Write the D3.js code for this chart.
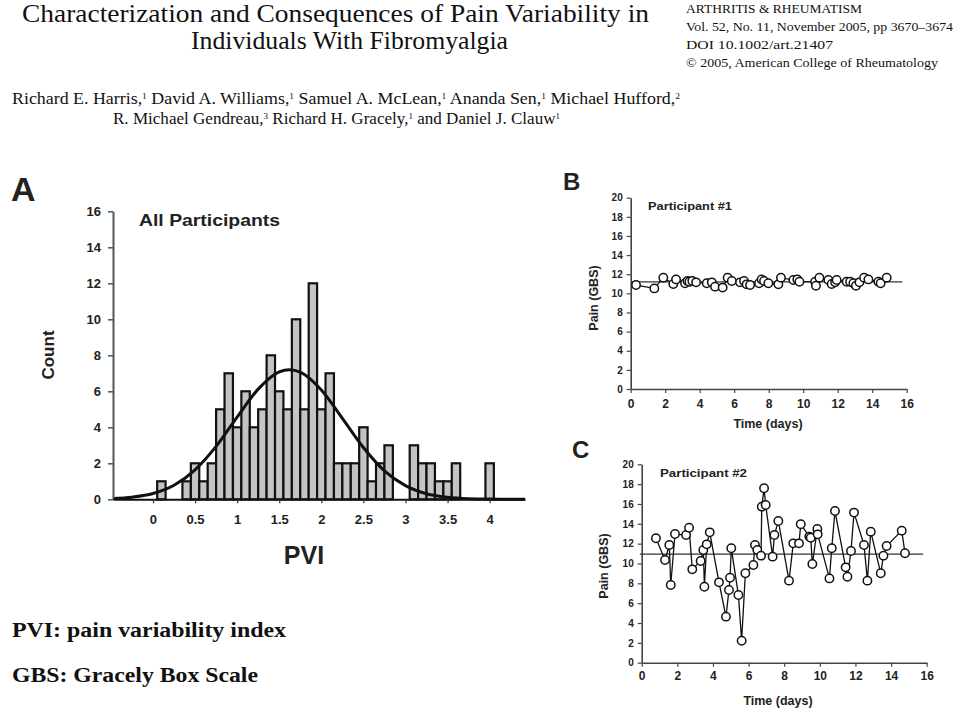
<!DOCTYPE html>
<html><head><meta charset="utf-8">
<script src="https://cdn.jsdelivr.net/npm/d3@7"></script>
<style>
html,body{margin:0;padding:0;background:#fff;}
svg{display:block;}
.sans{font-family:"Liberation Sans",Arial,sans-serif;font-weight:bold;fill:#222;}
.serif{font-family:"Liberation Serif","Times New Roman",serif;fill:#111;}
</style></head>
<body>
<script>
// ---------- DATA ----------
// Panel A: histogram of PVI (bin centres, width 0.1) and counts
const pviBins   = [0.1,0.4,0.5,0.6,0.7,0.8,0.9,1.0,1.1,1.2,1.3,1.4,1.5,1.6,1.7,1.8,1.9,2.0,2.1,2.2,2.3,2.4,2.5,2.6,2.7,2.8,3.1,3.2,3.3,3.4,3.5,3.6,4.0];
const pviCounts = [1,1,2,1,2,5,7,4,6,4,5,8,6,5,10,5,12,5,7,2,2,2,4,1,2,3,3,2,2,1,1,2,2];
const binWidth = 0.1;
// fitted normal curve
const curveX = [-0.475,-0.25,0,0.25,0.5,0.75,1.0,1.25,1.5,1.62,1.75,2.0,2.25,2.5,2.75,3.0,3.25,3.5,3.75,4.0,4.42];
const curveY = [0.04,0.12,0.32,0.78,1.64,2.94,4.57,6.12,7.08,7.2,7.06,6.07,4.5,2.88,1.58,0.76,0.31,0.11,0.03,0.01,0];
const pviTicks = [0,0.5,1,1.5,2,2.5,3,3.5,4];
const countTicks = [0,2,4,6,8,10,12,14,16];

// Panel B: participant #1
const p1Days = [0.31,1.37,1.89,2.47,2.63,3.15,3.29,3.40,3.57,3.79,4.41,4.70,4.89,5.33,5.62,5.86,6.34,6.57,6.72,6.92,7.44,7.59,7.73,7.98,8.56,8.71,9.43,9.66,9.78,10.69,10.74,10.94,11.46,11.65,11.85,11.94,12.52,12.72,12.91,13.06,13.26,13.53,13.78,14.36,14.49,14.84];
const p1Pain = [10.87,10.52,11.64,10.98,11.46,11.05,11.29,11.22,11.29,11.15,11.05,11.15,10.7,10.6,11.64,11.29,11.15,11.29,10.94,10.87,11.05,11.46,11.29,11.05,10.94,11.64,11.39,11.46,11.22,11.22,10.8,11.64,11.39,10.98,11.15,11.39,11.22,11.22,11.05,10.8,11.15,11.64,11.46,11.22,11.05,11.64];
const p1Mean = 11.2;

// Panel C: participant #2
const p2Days = [0.80,1.31,1.55,1.63,1.87,2.49,2.66,2.84,3.31,3.46,3.52,3.65,3.82,4.34,4.73,4.90,4.96,5.03,5.43,5.61,5.82,6.27,6.36,6.49,6.70,6.74,6.87,6.96,7.35,7.45,7.67,8.27,8.51,8.83,8.93,9.41,9.49,9.58,9.86,9.88,10.54,10.67,10.85,11.45,11.55,11.75,11.92,12.48,12.67,12.86,13.42,13.57,13.75,14.60,14.78];
const p2Pain = [12.54,10.35,11.87,7.83,12.97,12.87,13.61,9.41,10.25,11.36,7.66,11.93,13.14,8.10,4.64,7.33,8.57,11.53,6.82,2.22,9.01,9.85,11.87,11.36,10.79,15.73,17.58,15.90,10.69,12.87,14.29,8.27,12.03,12.03,13.95,12.71,12.6,9.95,13.48,12.94,8.5,11.53,15.29,9.61,8.67,11.26,15.13,11.87,8.27,13.21,9.01,10.79,11.76,13.31,11.03];
const p2Mean = 10.95;

const dayTicks = [0,2,4,6,8,10,12,14,16];
const painTicks = [0,2,4,6,8,10,12,14,16,18,20];

// ---------- DRAW ----------
const svg = d3.select("body").append("svg").attr("width",960).attr("height",712);
svg.append("rect").attr("width",960).attr("height",712).attr("fill","#fff");

// Header
function fitText(x,y,size,len,str,cls,weight){
  return svg.append("text").attr("class",cls||"serif").attr("x",x).attr("y",y)
    .attr("font-size",size).attr("font-weight",weight||"normal")
    .attr("textLength",len).attr("lengthAdjust","spacingAndGlyphs").text(str);
}
fitText(22,22,25,627,"Characterization and Consequences of Pain Variability in");
fitText(191,49,25,317,"Individuals With Fibromyalgia");
fitText(686,13,13,176,"ARTHRITIS & RHEUMATISM");
fitText(686,31,13,267,"Vol. 52, No. 11, November 2005, pp 3670–3674");
fitText(686,49,13,147,"DOI 10.1002/art.21407");
fitText(686,67,13,252,"© 2005, American College of Rheumatology");

function authorLine(x,y,len,parts){
  const t = svg.append("text").attr("class","serif").attr("x",x).attr("y",y).attr("font-size",17)
    .attr("textLength",len).attr("lengthAdjust","spacingAndGlyphs");
  parts.forEach(p=>{
    t.append("tspan").text(p[0]);
    if(p[1]) t.append("tspan").attr("font-size",9).attr("dy",-5).text(p[1]);
    if(p[1]) t.append("tspan").attr("dy",5).text(p[2]||"");
  });
}
authorLine(12,104,668,[["Richard E. Harris,","1"," "],["David A. Williams,","1"," "],["Samuel A. McLean,","1"," "],["Ananda Sen,","1"," "],["Michael Hufford,","2"]]);
authorLine(113,124,447,[["R. Michael Gendreau,","3"," "],["Richard H. Gracely,","1"," "],["and Daniel J. Clauw","1"]]);

// ---------- Panel A ----------
const xA = d3.scaleLinear().domain([-0.475,4.42]).range([113,525]);
const yA = d3.scaleLinear().domain([0,16]).range([499.3,211.3]);

svg.append("text").attr("class","sans").attr("x",11).attr("y",201).attr("font-size",34).text("A");

const gA = svg.append("g");
gA.selectAll("rect.bar").data(pviBins.map((b,i)=>({b,c:pviCounts[i]}))).join("rect")
  .attr("class","bar")
  .attr("x",d=>xA(d.b-binWidth/2)).attr("width",d=>xA(d.b+binWidth/2)-xA(d.b-binWidth/2))
  .attr("y",d=>yA(d.c)).attr("height",d=>yA(0)-yA(d.c))
  .attr("fill","#c4c4c4").attr("stroke","#111").attr("stroke-width",2.2);

const line = d3.line().x(d=>xA(d[0])).y(d=>yA(d[1])).curve(d3.curveMonotoneX);
gA.append("path").datum(curveX.map((x,i)=>[x,curveY[i]])).attr("d",line)
  .attr("fill","none").attr("stroke","#111").attr("stroke-width",3);

const axA_y = svg.append("g").attr("transform",`translate(${xA.range()[0]},0)`)
  .call(d3.axisLeft(yA).tickValues(countTicks).tickSize(5).tickSizeOuter(0).tickPadding(7));
axA_y.select(".domain").attr("stroke","#555").attr("stroke-width",2);
axA_y.selectAll(".tick line").attr("stroke","#555").attr("stroke-width",1.5);
axA_y.selectAll("text").attr("class","sans").attr("font-size",13).attr("fill","#333");

const axA_x = svg.append("g").attr("transform",`translate(0,${yA(0)})`)
  .call(d3.axisBottom(xA).tickValues(pviTicks).tickSize(4).tickSizeOuter(0).tickPadding(11).tickFormat(d=>String(d)));
axA_x.select(".domain").attr("stroke","#111").attr("stroke-width",2);
axA_x.selectAll(".tick line").attr("stroke","#333").attr("stroke-width",1.2);
axA_x.selectAll("text").attr("class","sans").attr("font-size",13).attr("fill","#333");

svg.append("text").attr("class","sans").attr("x",139).attr("y",226).attr("font-size",17)
  .attr("textLength",141).attr("lengthAdjust","spacingAndGlyphs").text("All Participants");
svg.append("text").attr("class","sans").attr("font-size",17).attr("text-anchor","middle")
  .attr("transform","translate(54,355) rotate(-90)").text("Count");
svg.append("text").attr("class","sans").attr("x",304).attr("y",564).attr("font-size",25)
  .attr("text-anchor","middle").text("PVI");

// ---------- time-series panels ----------
function tsPanel(opt){
  const x = d3.scaleLinear().domain([0,16]).range(opt.xr);
  const y = d3.scaleLinear().domain([0,20]).range(opt.yr);
  const g = svg.append("g");
  const ay = g.append("g").attr("transform",`translate(${opt.xr[0]},0)`)
    .call(d3.axisLeft(y).tickValues(painTicks).tickSize(4).tickSizeOuter(0).tickPadding(4));
  const ax = g.append("g").attr("transform",`translate(0,${opt.yr[0]})`)
    .call(d3.axisBottom(x).tickValues(dayTicks).tickSize(4).tickSizeOuter(0).tickPadding(opt.xpad));
  [ay,ax].forEach(a=>{
    a.select(".domain").attr("stroke","#444").attr("stroke-width",1.6);
    a.selectAll(".tick line").attr("stroke","#444").attr("stroke-width",1.2);
  });
  ay.selectAll("text").attr("class","sans").attr("font-size",10).attr("fill","#333");
  ax.selectAll("text").attr("class","sans").attr("font-size",12).attr("fill","#333");
  g.append("line").attr("x1",x(opt.meanFrom)).attr("x2",x(opt.meanTo))
    .attr("y1",y(opt.mean)).attr("y2",y(opt.mean)).attr("stroke","#333").attr("stroke-width",1.3);
  const pts = opt.days.map((d,i)=>[d,opt.pain[i]]);
  g.append("path").datum(pts).attr("d",d3.line().x(d=>x(d[0])).y(d=>y(d[1])))
    .attr("fill","none").attr("stroke","#111").attr("stroke-width",1.3);
  g.selectAll("circle").data(pts).join("circle")
    .attr("cx",d=>x(d[0])).attr("cy",d=>y(d[1])).attr("r",4.2)
    .attr("fill","#fff").attr("stroke","#111").attr("stroke-width",1.5);
  svg.append("text").attr("class","sans").attr("x",opt.letter[0]).attr("y",opt.letter[1])
    .attr("font-size",24).text(opt.letterText);
  svg.append("text").attr("class","sans").attr("x",opt.title[0]).attr("y",opt.title[1])
    .attr("font-size",11.5).attr("textLength",opt.title[2]).attr("lengthAdjust","spacingAndGlyphs").text(opt.titleText);
  svg.append("text").attr("class","sans").attr("font-size",12.5).attr("text-anchor","middle")
    .attr("transform",`translate(${opt.ylab[0]},${opt.ylab[1]}) rotate(-90)`).text("Pain (GBS)");
  svg.append("text").attr("class","sans").attr("font-size",12.5).attr("text-anchor","middle")
    .attr("x",opt.xlab[0]).attr("y",opt.xlab[1]).text("Time (days)");
}
tsPanel({xr:[630.7,906.7], yr:[389,197.7], xpad:6, days:p1Days, pain:p1Pain, mean:p1Mean,
  meanFrom:0.05, meanTo:15.75, letter:[563,190], letterText:"B",
  title:[648,210,84], titleText:"Participant #1", ylab:[598,298], xlab:[768,428]});
tsPanel({xr:[641.7,926.7], yr:[662.7,464.3], xpad:5, days:p2Days, pain:p2Pain, mean:p2Mean,
  meanFrom:-0.1, meanTo:15.8, letter:[572,458], letterText:"C",
  title:[660,477,87], titleText:"Participant #2", ylab:[608,566], xlab:[778,705]});

// Notes
svg.append("text").attr("class","serif").attr("x",12).attr("y",637).attr("font-size",20)
  .attr("font-weight","bold").attr("fill","#000").attr("textLength",274).attr("lengthAdjust","spacingAndGlyphs")
  .text("PVI: pain variability index");
svg.append("text").attr("class","serif").attr("x",12).attr("y",682).attr("font-size",20)
  .attr("font-weight","bold").attr("fill","#000").attr("textLength",246).attr("lengthAdjust","spacingAndGlyphs")
  .text("GBS: Gracely Box Scale");
</script>
</body></html>
